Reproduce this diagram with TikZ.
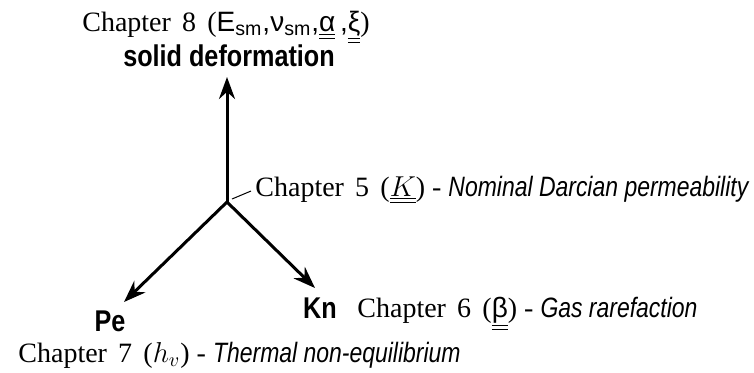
\documentclass[tikz,border=0pt]{standalone}
\usepackage{fontspec}
\setmainfont{Liberation Serif}
\setsansfont{Liberation Sans}
\newfontfamily\narrowsf[FakeStretch=0.82]{Liberation Sans}
\newfontfamily\boldsf[FakeStretch=0.84]{Liberation Sans}
\usetikzlibrary{positioning, arrows.meta, calc}
\newcommand{\dul}[1]{\underline{\underline{#1}}}
\newcommand{\gap}{\hspace{0.4em}}
\begin{document}
\begin{tikzpicture}[x=0.5pt, y=-0.5pt,
    axisarrow/.style={line width=1.5pt, -{Stealth[length=11pt, width=8pt]}},
    chaptxt/.style={font=\fontsize{14}{16}\selectfont, anchor=base west, inner sep=0pt},
    dimtxt/.style={font=\fontsize{15}{17}\selectfont\boldsf\bfseries, inner sep=0pt, anchor=base}]

        \useasboundingbox (0,0) rectangle (754,372);

        % Axes
        \coordinate (o) at (227,202);
        \coordinate (sd) at (227,77);
        \coordinate (pe) at (124,302);
        \coordinate (kn) at (315,288);
        \draw[axisarrow] (o) -- (sd);
        \draw[axisarrow] (o) -- (pe);
        \draw[axisarrow] (o) -- (kn);

        % Chapter 8
        \node[chaptxt, anchor=base] (ch8) at (226,31)
            {Chapter\gap 8\gap (\textsf{E\textsubscript{sm},ν\textsubscript{sm},\dul{α}\,,\dul{ξ}})};
        \node[dimtxt] (solid) at (229,66) {solid deformation};

        % Chapter 5
        \node[chaptxt] (ch5) at (255,196)
            {Chapter\gap 5\gap ($\dul{K}$) - {\narrowsf\itshape Nominal Darcian permeability}};
        \coordinate (lead) at (232,199);
        \draw[line width=0.5pt] (lead) -- ($(ch5.base west)+(-4,-5)$);

        % Chapter 6
        \node[dimtxt] (knlbl) at (320,318) {Kn};
        \node[chaptxt] (ch6) at (357,317)
            {Chapter\gap 6\gap (\textsf{\dul{β}}) - {\narrowsf\itshape Gas rarefaction}};

        % Chapter 7
        \node[dimtxt] (pelbl) at (110,331) {Pe};
        \node[chaptxt] (ch7) at (18,362)
            {Chapter\gap 7\gap ($h_v$) - {\narrowsf\itshape Thermal non-equilibrium}};

    \end{tikzpicture}
\end{document}
